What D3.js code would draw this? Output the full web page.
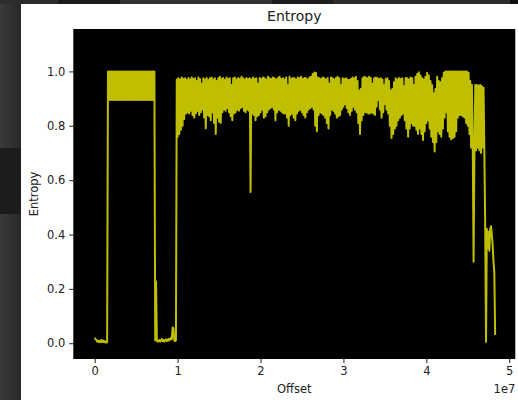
<!DOCTYPE html>
<html>
<head>
<meta charset="utf-8">
<script src="https://cdn.jsdelivr.net/npm/d3@7"></script>
<style>
  body { margin: 0; background: #2a2a2a; }
  svg { display: block; }
  text { font-family: "DejaVu Sans", sans-serif; }
</style>
</head>
<body>
<div id="chart"></div>
<script>
// Entropy per block, one value per 100000-byte block
const blockSize = 100000;
const entropy = [
  0.02, 0.015, 0.012, 0.006, 0.01, 0.004, 0.008, 0.004, 0.012, 0.005, 0.01, 0.004, 0.008, 0.003, 0.006, 0.003, 1.0, 0.895, 1.0, 0.895,
  1.0, 0.895, 1.0, 0.895, 1.0, 0.895, 1.0, 0.895, 1.0, 0.895, 1.0, 0.895, 1.0, 0.895, 1.0, 0.895, 1.0, 0.895, 1.0, 0.895,
  1.0, 0.895, 1.0, 0.895, 1.0, 0.895, 1.0, 0.895, 1.0, 0.895, 1.0, 0.895, 1.0, 0.895, 1.0, 0.895, 1.0, 0.895, 1.0, 0.895,
  1.0, 0.895, 1.0, 0.895, 1.0, 0.895, 1.0, 0.895, 1.0, 0.895, 1.0, 0.895, 1.0, 0.01, 0.227, 0.01, 0.006, 0.008, 0.012, 0.006,
  0.01, 0.015, 0.008, 0.012, 0.006, 0.01, 0.014, 0.008, 0.012, 0.016, 0.01, 0.014, 0.02, 0.015, 0.058, 0.055, 0.01, 0.008, 0.01, 0.97,
  0.76, 0.975, 0.77, 0.97, 0.785, 0.978, 0.80, 0.972, 0.825, 0.975, 0.845, 0.968, 0.85, 0.976, 0.845, 0.97, 0.855, 0.978, 0.84, 0.972,
  0.83, 0.975, 0.845, 0.965, 0.855, 0.978, 0.84, 0.972, 0.85, 0.955, 0.86, 0.975, 0.83, 0.97, 0.79, 0.976, 0.84, 0.968, 0.835, 0.975,
  0.82, 0.978, 0.85, 0.97, 0.81, 0.975, 0.77, 0.965, 0.83, 0.975, 0.815, 0.98, 0.81, 0.972, 0.85, 0.976, 0.86, 0.968, 0.855, 0.978,
  0.865, 0.972, 0.85, 0.975, 0.835, 0.95, 0.82, 0.975, 0.845, 0.978, 0.85, 0.97, 0.86, 0.976, 0.855, 0.972, 0.865, 0.98, 0.87, 0.975,
  0.855, 0.97, 0.85, 0.976, 0.86, 0.972, 0.855, 0.975, 0.556, 0.97, 0.845, 0.978, 0.84, 0.972, 0.82, 0.975, 0.835, 0.955, 0.84, 0.976,
  0.85, 0.972, 0.86, 0.978, 0.83, 0.975, 0.835, 0.97, 0.85, 0.98, 0.86, 0.975, 0.865, 0.972, 0.87, 0.978, 0.86, 0.975, 0.82, 0.97,
  0.85, 0.976, 0.86, 0.98, 0.855, 0.972, 0.85, 0.975, 0.845, 0.97, 0.845, 0.978, 0.83, 0.95, 0.80, 0.98, 0.84, 0.972, 0.845, 0.976,
  0.83, 0.975, 0.82, 0.97, 0.845, 0.978, 0.855, 0.975, 0.86, 0.98, 0.85, 0.972, 0.84, 0.976, 0.83, 0.975, 0.85, 0.97, 0.86, 0.978,
  0.865, 0.98, 0.87, 0.99, 0.86, 0.996, 0.80, 0.994, 0.78, 0.978, 0.84, 0.975, 0.85, 0.972, 0.845, 0.978, 0.84, 0.975, 0.83, 0.97,
  0.81, 0.976, 0.79, 0.955, 0.84, 0.978, 0.86, 0.975, 0.855, 0.97, 0.845, 0.976, 0.83, 0.98, 0.835, 0.975, 0.84, 0.95, 0.86, 0.975,
  0.87, 0.972, 0.88, 0.975, 0.865, 0.97, 0.85, 0.968, 0.84, 0.972, 0.855, 0.978, 0.87, 0.975, 0.86, 0.98, 0.85, 0.965, 0.81, 0.93,
  0.77, 0.935, 0.82, 0.975, 0.84, 0.98, 0.85, 0.978, 0.85, 0.975, 0.845, 0.98, 0.845, 0.976, 0.85, 0.955, 0.845, 0.975, 0.84, 0.978,
  0.87, 0.976, 0.895, 0.972, 0.86, 0.975, 0.83, 0.97, 0.85, 0.95, 0.88, 0.972, 0.86, 0.975, 0.845, 0.965, 0.80, 0.93, 0.755, 0.935,
  0.77, 0.96, 0.79, 0.975, 0.80, 0.97, 0.82, 0.976, 0.83, 0.972, 0.84, 0.975, 0.845, 0.945, 0.82, 0.976, 0.79, 0.975, 0.76, 0.97,
  0.79, 0.978, 0.81, 0.975, 0.80, 0.95, 0.80, 0.98, 0.785, 0.99, 0.77, 0.997, 0.79, 0.985, 0.77, 0.975, 0.748, 0.97, 0.78, 0.98,
  0.81, 0.995, 0.82, 0.985, 0.79, 0.965, 0.76, 0.95, 0.74, 0.92, 0.705, 0.935, 0.74, 0.98, 0.78, 0.965, 0.77, 0.96, 0.76, 0.975,
  0.79, 0.995, 0.83, 1.0, 0.85, 1.0, 0.78, 1.0, 0.76, 1.0, 0.75, 1.0, 0.755, 1.0, 0.76, 1.0, 0.78, 1.0, 0.83, 1.0,
  0.84, 1.0, 0.84, 1.0, 0.835, 1.0, 0.83, 1.0, 0.81, 1.0, 0.80, 0.995, 0.77, 0.965, 0.72, 0.95, 0.72, 0.30, 0.70, 0.95,
  0.71, 0.95, 0.72, 0.948, 0.71, 0.95, 0.70, 0.945, 0.72, 0.94, 0.70, 0.43, 0.005, 0.42, 0.35, 0.41, 0.34, 0.42, 0.43, 0.40,
  0.36, 0.30, 0.26, 0.03
];

const xTicks = [0, 1e7, 2e7, 3e7, 4e7, 5e7];
const yTicks = [0.0, 0.2, 0.4, 0.6, 0.8, 1.0];
const xDomain = [-2.58e6, 5.073e7];
const yDomain = [-0.058, 1.156];

const width = 518, height = 400;
const plot = { left: 73.3, top: 29, right: 515.3, bottom: 359 };

const svg = d3.select("#chart").append("svg")
    .attr("width", width)
    .attr("height", height);

// dark window chrome around the figure
const chrome = svg.append("defs").append("linearGradient")
    .attr("id", "chrome").attr("x1", "0%").attr("x2", "100%");
chrome.append("stop").attr("offset", "0%").attr("stop-color", "#3a3a3a");
chrome.append("stop").attr("offset", "100%").attr("stop-color", "#282828");
svg.append("rect").attr("x", 0).attr("y", 0).attr("width", 21).attr("height", height).attr("fill", "url(#chrome)");
svg.append("rect").attr("x", 0).attr("y", 148).attr("width", 21).attr("height", 66).attr("fill", "#1c1c1c");
[[0, 58, "#2c2c2c"], [58, 120, "#1b1b1b"], [120, 272, "#303030"], [272, 333, "#1e1e1e"], [333, 510, "#2c2c2c"], [510, 518, "#111"]]
    .forEach(([a, b, c]) => svg.append("rect").attr("x", a).attr("y", 0).attr("width", b - a).attr("height", 4).attr("fill", c));

// figure background
svg.append("rect").attr("x", 21).attr("y", 4).attr("width", width - 21).attr("height", height - 4).attr("fill", "#fff");

const x = d3.scaleLinear().domain(xDomain).range([plot.left, plot.right]);
const y = d3.scaleLinear().domain(yDomain).range([plot.bottom, plot.top]);

// axes background
svg.append("rect")
    .attr("x", plot.left).attr("y", plot.top)
    .attr("width", plot.right - plot.left).attr("height", plot.bottom - plot.top)
    .attr("fill", "#000");

svg.append("clipPath").attr("id", "clip").append("rect")
    .attr("x", plot.left).attr("y", plot.top)
    .attr("width", plot.right - plot.left).attr("height", plot.bottom - plot.top);

const line = d3.line()
    .x((d, i) => x(i * blockSize))
    .y(d => y(d));

svg.append("path")
    .datum(entropy)
    .attr("clip-path", "url(#clip)")
    .attr("fill", "none")
    .attr("stroke", "#bfbf00")
    .attr("stroke-width", 2)
    .attr("stroke-linejoin", "round")
    .attr("d", line);

// axes
const xAxis = svg.append("g")
    .attr("transform", `translate(0,${plot.bottom})`)
    .call(d3.axisBottom(x).tickValues(xTicks).tickFormat(d => d3.format("d")(d / 1e7)).tickSize(4).tickPadding(4));
const yAxis = svg.append("g")
    .attr("transform", `translate(${plot.left},0)`)
    .call(d3.axisLeft(y).tickValues(yTicks).tickFormat(d3.format(".1f")).tickSize(4).tickPadding(4));

[xAxis, yAxis].forEach(g => {
    g.select(".domain").remove();
    g.selectAll(".tick line").attr("stroke", "#000").attr("stroke-width", 0.9);
    g.selectAll(".tick text")
        .attr("fill", "#222")
        .style("font-size", "11.5px")
        .style("font-family", "DejaVu Sans");
});

// labels
svg.append("text")
    .attr("x", (plot.left + plot.right) / 2).attr("y", 21)
    .attr("text-anchor", "middle")
    .attr("fill", "#222")
    .style("font-size", "14px")
    .text("Entropy");

svg.append("text")
    .attr("x", (plot.left + plot.right) / 2).attr("y", 393)
    .attr("text-anchor", "middle")
    .attr("fill", "#222")
    .style("font-size", "11.5px")
    .text("Offset");

svg.append("text")
    .attr("transform", `translate(38,${(plot.top + plot.bottom) / 2}) rotate(-90)`)
    .attr("text-anchor", "middle")
    .attr("fill", "#222")
    .style("font-size", "11.5px")
    .text("Entropy");

svg.append("text")
    .attr("x", plot.right).attr("y", 393)
    .attr("text-anchor", "end")
    .attr("fill", "#222")
    .style("font-size", "11.5px")
    .text("1e7");
</script>
</body>
</html>
